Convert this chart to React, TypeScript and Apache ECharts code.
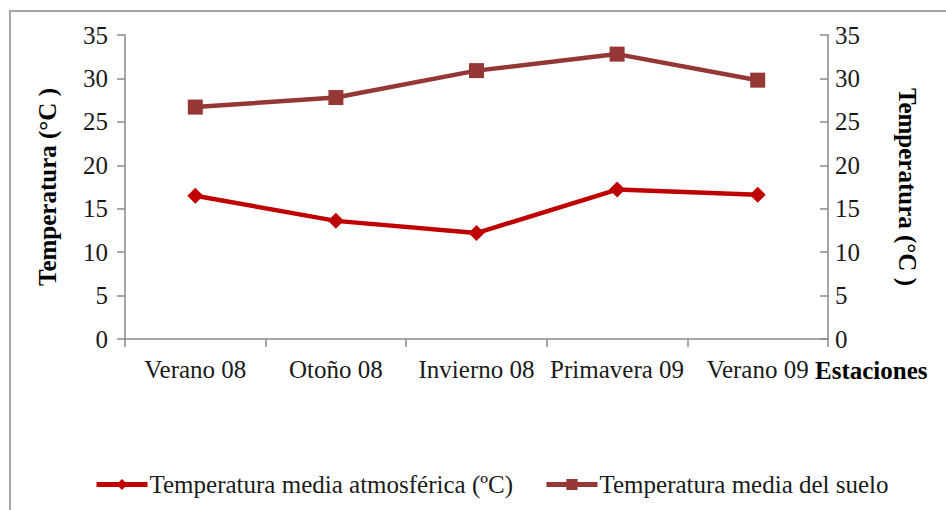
import React, { useEffect, useRef } from "react";
import * as echarts from "echarts";

const categories = ["Verano 08", "Otoño 08", "Invierno 08", "Primavera 09", "Verano 09"];
const atmosferica = [16.5, 13.6, 12.2, 17.2, 16.6];
const suelo = [26.7, 27.8, 30.9, 32.8, 29.8];
const seriesNames = ["Temperatura media atmosférica (ºC)", "Temperatura media del suelo"];
const yTitle = "Temperatura (°C )";
const xTitle = "Estaciones";

const FONT = "'Liberation Serif', 'Times New Roman', serif";
const AXIS_GRAY = "#8a8a8a";
const TEXT = "#1a1a1a";
const FS = 25;

export default function App() {
  const ref = useRef<HTMLDivElement>(null);
  useEffect(() => {
    document.body.style.margin = "0";
    const chart = echarts.init(ref.current!, null, { renderer: "svg" });
    const yCommon = {
      type: "value",
      min: 0,
      max: 35,
      interval: 5,
      splitLine: { show: false },
      axisLine: { show: true, lineStyle: { color: AXIS_GRAY, width: 1.5 } },
      nameLocation: "middle",
    };
    chart.setOption({
      animation: false,
      textStyle: { fontFamily: FONT },
      graphic: [
        {
          type: "rect",
          shape: { x: 10, y: 11, width: 1000, height: 1000 },
          style: { fill: "none", stroke: "#a6a6a6", lineWidth: 2 },
          silent: true,
        },
      ],
      grid: { left: 125, right: 118, top: 35, bottom: 171 },
      legend: {
        left: 89,
        top: 467,
        itemWidth: 51,
        itemHeight: 14,
        itemGap: 31,
        textStyle: { fontFamily: FONT, fontSize: FS, color: TEXT, padding: [0, 0, 0, -3] },
        data: [
          { name: seriesNames[0], lineStyle: { width: 5 } },
          { name: seriesNames[1], lineStyle: { width: 5 } },
        ],
      },
      xAxis: {
        type: "category",
        data: categories,
        boundaryGap: true,
        axisLine: { lineStyle: { color: AXIS_GRAY, width: 1.5 } },
        axisTick: { show: true, length: 8, lineStyle: { color: AXIS_GRAY, width: 1.5 } },
        axisLabel: { fontFamily: FONT, fontSize: FS, color: TEXT, margin: 18, interval: 0 },
        name: xTitle,
        nameLocation: "end",
        nameGap: -13,
        nameTextStyle: {
          fontFamily: FONT,
          fontSize: FS,
          fontWeight: "bold",
          color: "#000",
          align: "left",
          verticalAlign: "top",
          padding: [19, 0, 0, 0],
        },
      },
      yAxis: [
        {
          ...yCommon,
          position: "left",
          name: yTitle,
          nameRotate: 90,
          nameGap: 65,
          nameTextStyle: { fontFamily: FONT, fontSize: FS, fontWeight: "bold", color: "#000" },
          axisTick: { show: true, length: 8, lineStyle: { color: AXIS_GRAY, width: 1.5 } },
          axisLabel: { fontFamily: FONT, fontSize: FS, color: TEXT, margin: 17 },
        },
        {
          ...yCommon,
          position: "right",
          name: yTitle,
          nameRotate: -90,
          nameGap: 67,
          nameTextStyle: { fontFamily: FONT, fontSize: FS, fontWeight: "bold", color: "#000" },
          axisTick: { show: true, inside: true, length: 8, lineStyle: { color: AXIS_GRAY, width: 1.5 } },
          axisLabel: { fontFamily: FONT, fontSize: FS, color: TEXT, margin: 7 },
        },
      ],
      series: [
        {
          name: seriesNames[0],
          type: "line",
          yAxisIndex: 0,
          data: atmosferica,
          symbol: "diamond",
          symbolSize: 16,
          lineStyle: { color: "#c00000", width: 4.5 },
          itemStyle: { color: "#c00000" },
        },
        {
          name: seriesNames[1],
          type: "line",
          yAxisIndex: 0,
          data: suelo,
          symbol: "rect",
          symbolSize: 15,
          lineStyle: { color: "#953735", width: 4.5 },
          itemStyle: { color: "#953735" },
        },
      ],
    });
    return () => chart.dispose();
  }, []);
  return <div ref={ref} style={{ width: 946, height: 510 }} />;
}
